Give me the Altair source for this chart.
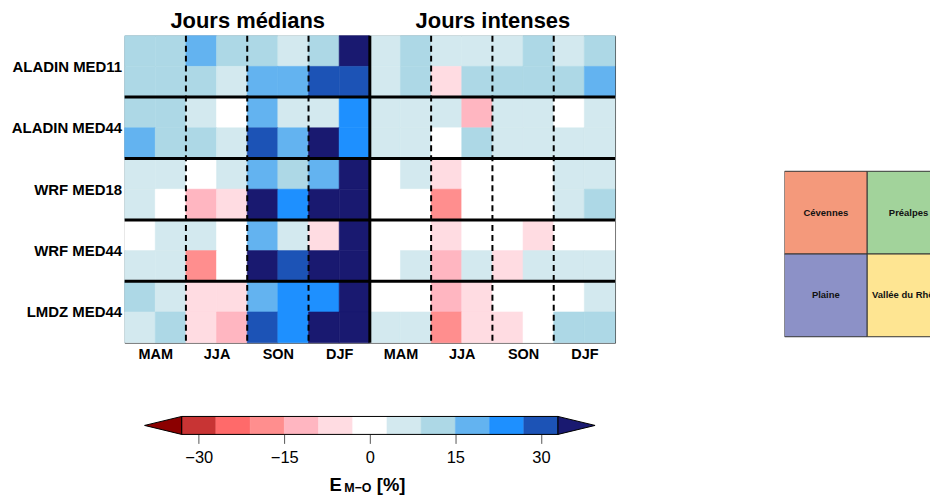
import altair as alt
import pandas as pd

FONT = "Liberation Sans"

# ---------------- data ----------------
models = ["ALADIN MED11", "ALADIN MED44", "WRF MED18", "WRF MED44", "LMDZ MED44"]
seasons = ["MAM", "JJA", "SON", "DJF"]
day_types = ["Jours médians", "Jours intenses"]
regions_top = ["Cévennes", "Préalpes"]
regions_bottom = ["Plaine", "Vallée du Rhône"]

# E_M-O (%) : 16 columns = 2 day types x 4 seasons x 2 regions
# top row -> Cévennes | Préalpes ; bottom row -> Plaine | Vallée du Rhône
aladin_med11_top = [12, 12, 18, 12, 12, 6, 12, 36, 6, 12, 6, 6, 6, 12, 6, 12]
aladin_med11_bot = [12, 12, 12, 6, 18, 18, 30, 30, 6, 12, -6, 12, 12, 12, 12, 18]
aladin_med44_top = [12, 12, 6, 0, 18, 6, 6, 24, 6, 6, 6, -12, 6, 6, 0, 6]
aladin_med44_bot = [18, 12, 12, 6, 30, 18, 36, 24, 6, 6, 0, 12, 6, 6, 6, 6]
wrf_med18_top = [6, 6, 0, 6, 18, 12, 18, 36, 0, 6, -6, 0, 0, 0, 6, 6]
wrf_med18_bot = [6, 0, -12, -6, 36, 24, 36, 36, 0, 0, -18, 0, 0, 0, 6, 12]
wrf_med44_top = [0, 6, 6, 0, 18, 6, -6, 36, 0, 0, -6, 0, 0, -6, 0, 0]
wrf_med44_bot = [6, 6, -18, 0, 36, 30, 36, 36, 0, 6, -12, 6, -6, 6, 6, 6]
lmdz_med44_top = [12, 6, -6, -6, 18, 24, 24, 36, 0, 0, -12, -6, 0, 0, 0, 6]
lmdz_med44_bot = [6, 12, -6, -12, 30, 24, 36, 36, 6, 6, -18, -6, -6, 0, 12, 12]

tops = [aladin_med11_top, aladin_med44_top, wrf_med18_top, wrf_med44_top, lmdz_med44_top]
bots = [aladin_med11_bot, aladin_med44_bot, wrf_med18_bot, wrf_med44_bot, lmdz_med44_bot]

bin_edges = [-33, -27, -21, -15, -9, -3, 3, 9, 15, 21, 27, 33]
bin_colors = ["#8B0000", "#C83434", "#FF6A6A", "#FF8E8E", "#FFB6C1", "#FFDCE2",
              "#FFFFFF", "#D3E9EF", "#ADD8E6", "#63B3F0", "#1E90FF", "#1C53B6", "#191970"]
cb_ticks = [-30, -15, 0, 15, 30]
cb_title_parts = ["E", "M\u2212O", "[%]"]

legend_regions = ["Cévennes", "Préalpes", "Plaine", "Vallée du Rhône"]
legend_col = [0, 1, 0, 1]
legend_row = [0, 0, 1, 1]
legend_colors = ["#F4997B", "#A2D39B", "#8C91C7", "#FEE592"]

# ---------------- tables ----------------
rows = []
for mi, m in enumerate(models):
    for sub, vals in enumerate([tops[mi], bots[mi]]):
        regs = regions_top if sub == 0 else regions_bottom
        for c, v in enumerate(vals):
            rows.append(dict(model=m, day_type=day_types[c // 8], season=seasons[(c // 2) % 4],
                             region=regs[c % 2], x0=c, x1=c + 1,
                             y0=2 * mi + sub, y1=2 * mi + sub + 1, value=v))
df = pd.DataFrame(rows)

cscale = alt.Scale(type="threshold", domain=bin_edges, range=bin_colors)
xs = alt.Scale(domain=[0, 16], nice=False, zero=False)
ys = alt.Scale(domain=[0, 10], nice=False, zero=False, reverse=True)

season_expr = "[" + ",".join("'%s'" % s for s in seasons) + "][floor(datum.value/2)%4]"
model_expr = "[" + ",".join("'%s'" % m for m in models) + "][floor(datum.value/2)]"
dtype_expr = "[" + ",".join("'%s'" % d for d in day_types) + "][floor(datum.value/8)]"

rects = alt.Chart(df).mark_rect(strokeWidth=0.6).encode(
    x=alt.X("x0:Q", scale=xs, axis=alt.Axis(
        values=[1, 3, 5, 7, 9, 11, 13, 15], labelExpr=season_expr, title=None,
        ticks=False, tickSize=0, domain=False, grid=False, labelFont=FONT,
        labelFontSize=14.5, labelFontWeight="bold", labelColor="black", labelPadding=5)),
    x2="x1:Q",
    y=alt.Y("y0:Q", scale=ys, axis=alt.Axis(
        values=[1, 3, 5, 7, 9], labelExpr=model_expr, title=None,
        ticks=False, tickSize=0, domain=False, grid=False, labelFont=FONT,
        labelFontSize=15, labelFontWeight="bold", labelColor="black", labelPadding=3)),
    y2="y1:Q",
    color=alt.Color("value:Q", scale=cscale, legend=None),
    stroke=alt.Stroke("value:Q", scale=cscale, legend=None),
)

season_breaks = pd.DataFrame({"x": [2, 4, 6, 10, 12, 14]})
dashed = alt.Chart(season_breaks).mark_rule(color="black", strokeWidth=2, strokeDash=[6, 4]).encode(
    x=alt.X("x:Q", scale=xs, axis=None))

model_breaks = pd.DataFrame({"y": [2, 4, 6, 8]})
hthick = alt.Chart(model_breaks).mark_rule(color="black", strokeWidth=3).encode(
    y=alt.Y("y:Q", scale=ys))

type_break = pd.DataFrame({"x": [8]})
vthick = alt.Chart(type_break).mark_rule(color="black", strokeWidth=3).encode(
    x=alt.X("x:Q", scale=xs, axis=alt.Axis(
        orient="top", values=[4, 12], labelExpr=dtype_expr, title=None,
        ticks=False, tickSize=0, domain=False, grid=False, labelFont=FONT,
        labelFontSize=22, labelFontWeight="bold", labelColor="black", labelPadding=3)))

heatmap = alt.layer(rects, dashed, hthick, vthick).resolve_axis(x="independent").properties(
    width=492, height=308, view=alt.ViewBackground(stroke="#3c3c3c", strokeWidth=1))

# ---------------- region legend ----------------
leg_df = pd.DataFrame({"region": legend_regions, "c0": legend_col, "r0": legend_row,
                       "fill": legend_colors})
leg_df["c1"] = leg_df["c0"] + 1
leg_df["r1"] = leg_df["r0"] + 1
leg_df["cm"] = leg_df["c0"] + 0.5
leg_df["rm"] = leg_df["r0"] + 0.5
lx = alt.Scale(domain=[0, 146 / 83], nice=False, zero=False)
ly = alt.Scale(domain=[-1.639, 2.072], nice=False, zero=False, reverse=True)
leg_rect = alt.Chart(leg_df).mark_rect(stroke="#333333", strokeWidth=1, clip=True).encode(
    x=alt.X("c0:Q", scale=lx, axis=None), x2="c1:Q",
    y=alt.Y("r0:Q", scale=ly, axis=None), y2="r1:Q",
    color=alt.Color("fill:N", scale=alt.Scale(domain=legend_colors, range=legend_colors), legend=None))
leg_text = alt.Chart(leg_df).mark_text(font=FONT, fontSize=9.5, fontWeight="bold", color="#111111",
                                       clip=True).encode(
    x=alt.X("cm:Q", scale=lx, axis=None), y=alt.Y("rm:Q", scale=ly, axis=None), text="region:N")
legend = alt.layer(leg_rect, leg_text).properties(
    width=146, height=308, view=alt.ViewBackground(stroke="transparent"))

# ---------------- colour bar ----------------
cb_df = pd.DataFrame({"lo": bin_edges[:-1], "hi": bin_edges[1:]})
cb_df["mid"] = (cb_df["lo"] + cb_df["hi"]) / 2
cb_df["y0"] = 0
cb_df["y1"] = 1
cbx = alt.Scale(domain=[-43, 43], nice=False, zero=False)
cby = alt.Scale(domain=[0, 1], nice=False, zero=False)

cb_boxes = alt.Chart(cb_df).mark_rect(strokeWidth=0.5).encode(
    x=alt.X("lo:Q", scale=cbx, axis=alt.Axis(
        values=cb_ticks, title=None, grid=False, domain=False, tickSize=9, tickColor="#555555",
        tickWidth=1, labelFont=FONT, labelFontSize=16.5, labelColor="black", labelPadding=6,
        labelExpr="replace(format(datum.value, 'd'), '-', '\u2212')")),
    x2="hi:Q",
    y=alt.Y("y0:Q", scale=cby, axis=None), y2="y1:Q",
    color=alt.Color("mid:Q", scale=cscale, legend=None),
    stroke=alt.Stroke("mid:Q", scale=cscale, legend=None),
)
cb_outline = alt.Chart(pd.DataFrame({"lo": [bin_edges[0]], "hi": [bin_edges[-1]], "y0": [0], "y1": [1]})).mark_rect(
    fillOpacity=0, stroke="black", strokeWidth=1).encode(
    x=alt.X("lo:Q", scale=cbx), x2="hi:Q", y=alt.Y("y0:Q", scale=cby), y2="y1:Q")

tri_low = pd.DataFrame({"x": [-39.5, bin_edges[0]], "y": [0.5, 0], "y2": [0.5, 1]})
tri_high = pd.DataFrame({"x": [bin_edges[-1], 39.5], "y": [0, 0.5], "y2": [1, 0.5]})
t_low = alt.Chart(tri_low).mark_area(color=bin_colors[0], stroke="black", strokeWidth=1).encode(
    x=alt.X("x:Q", scale=cbx), y=alt.Y("y:Q", scale=cby), y2="y2:Q")
t_high = alt.Chart(tri_high).mark_area(color=bin_colors[-1], stroke="black", strokeWidth=1).encode(
    x=alt.X("x:Q", scale=cbx), y=alt.Y("y:Q", scale=cby), y2="y2:Q")

anchor = pd.DataFrame({"x": [0], "y": [0]})
tt_e = alt.Chart(anchor).mark_text(text=cb_title_parts[0], font=FONT, fontSize=18.5, fontWeight="bold",
                                   align="right", baseline="alphabetic", dx=-28, dy=57, color="black").encode(
    x=alt.X("x:Q", scale=cbx), y=alt.Y("y:Q", scale=cby))
tt_sub = alt.Chart(anchor).mark_text(text=cb_title_parts[1], font=FONT, fontSize=12.5, fontWeight="bold",
                                     align="center", baseline="alphabetic", dx=-12, dy=58, color="black").encode(
    x=alt.X("x:Q", scale=cbx), y=alt.Y("y:Q", scale=cby))
tt_pct = alt.Chart(anchor).mark_text(text=cb_title_parts[2], font=FONT, fontSize=18.5, fontWeight="bold",
                                     align="left", baseline="alphabetic", dx=7, dy=57, color="black").encode(
    x=alt.X("x:Q", scale=cbx), y=alt.Y("y:Q", scale=cby))

colorbar = alt.layer(cb_boxes, cb_outline, t_low, t_high, tt_e, tt_sub, tt_pct).properties(
    width=492, height=18, view=alt.ViewBackground(stroke="transparent"))

top = alt.hconcat(heatmap, legend, spacing=167)
chart = alt.vconcat(top, colorbar, spacing=52).properties(
    padding={"left": 2, "top": 0, "right": 0, "bottom": 0}
).configure_view(stroke="transparent").configure(background="white")

chart.save("out.html", embed_options={"renderer": "svg", "actions": False})
